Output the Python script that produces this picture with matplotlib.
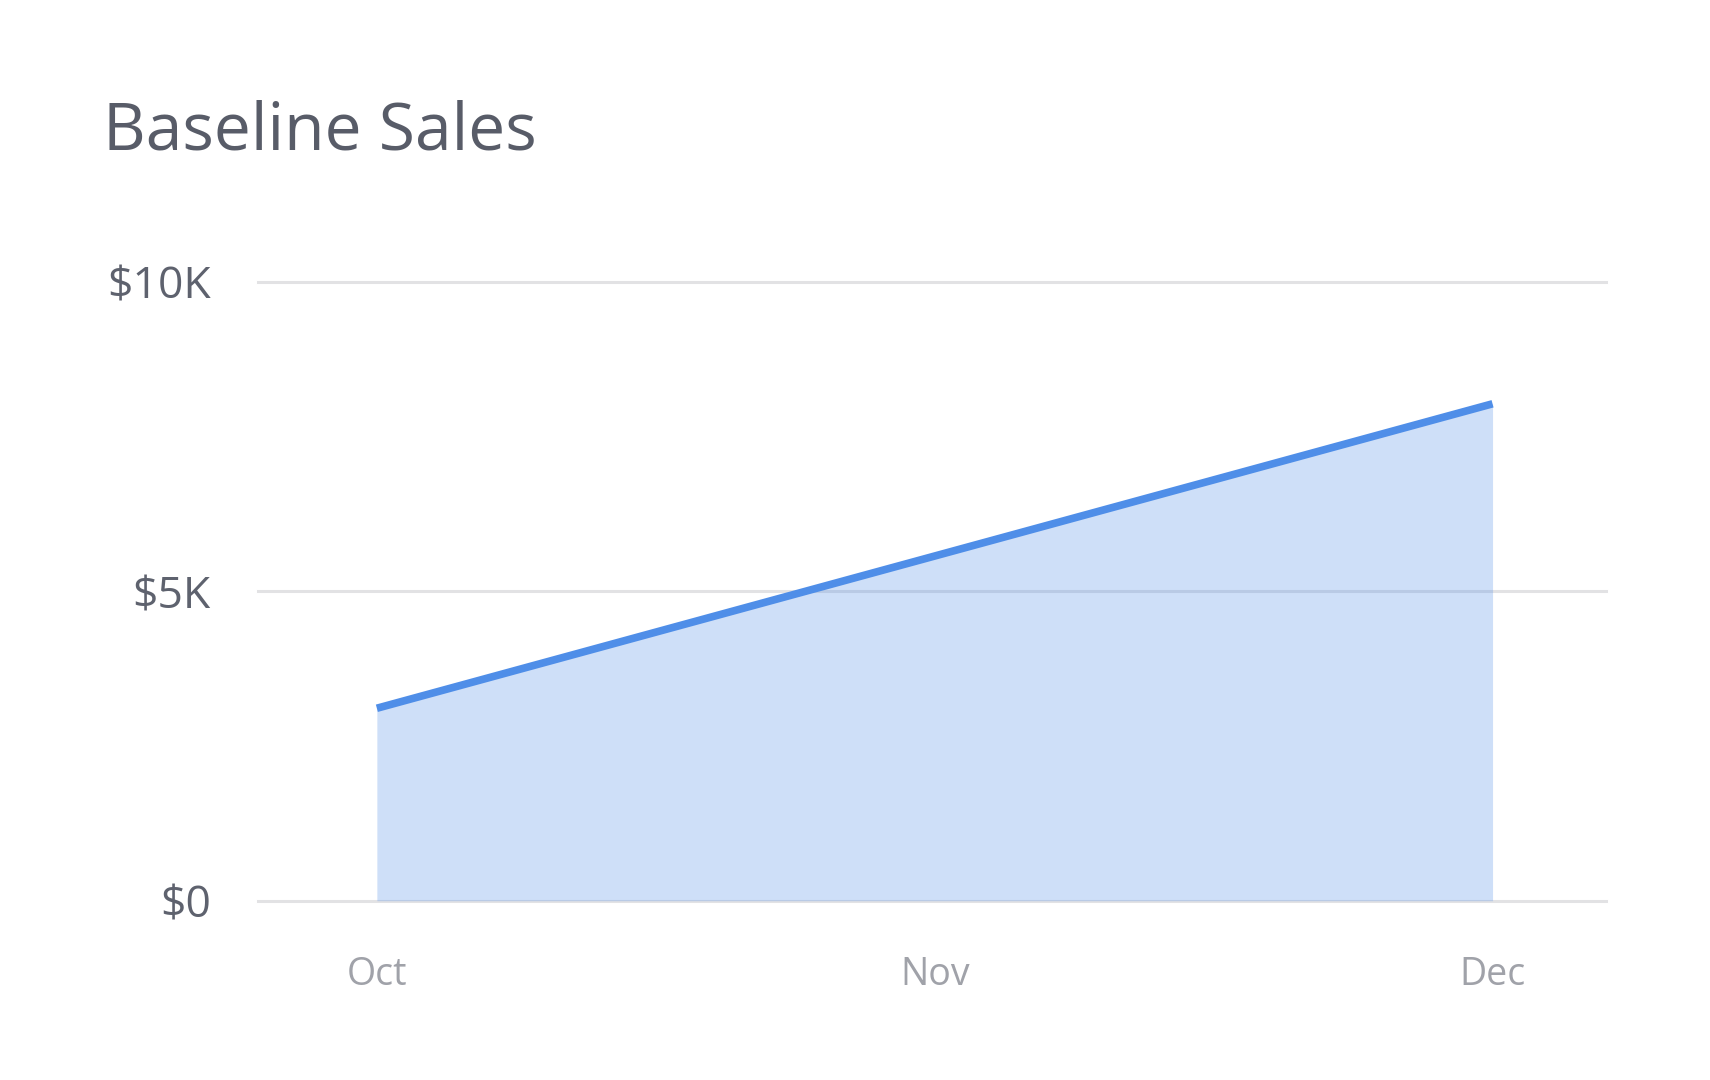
import matplotlib.pyplot as plt

months = ["Oct", "Nov", "Dec"]
sales = [3110, 5570, 8030]
y_ticks = [0, 5000, 10000]
y_labels = ["$0", "$5K", "$10K"]

plt.rcParams['font.family'] = ['Open Sans', 'DejaVu Sans']

fig = plt.figure(figsize=(17.1, 10.8), dpi=100)
ax = fig.add_axes([0.1509, 0.166, 0.788, 0.573])

x = list(range(len(months)))
# grid goes under a see-through fill so the $5K line shows faintly inside it
for y in y_ticks:
    ax.axhline(y, color="#e2e2e4", linewidth=2.2, zorder=1, clip_on=False)
ax.fill_between(x, 0, sales, color="#4f8ee8", alpha=0.28, linewidth=0, zorder=2)
ax.plot(x, sales, color="#4f8ee8", linewidth=5.5, solid_capstyle="butt", zorder=3)

ax.set_xlim(-0.213, 2.2025)
ax.set_ylim(0, 10000)
ax.set_yticks(y_ticks)
ax.set_yticklabels(y_labels)
ax.set_xticks(x)
ax.set_xticklabels(months)

for s in ax.spines.values():
    s.set_visible(False)
ax.tick_params(axis="y", length=0, pad=34, labelsize=32, labelcolor="#5e626e")
ax.tick_params(axis="x", length=0, pad=40, labelsize=27, labelcolor="#a0a2a9")

fig.text(0.0605, 1 - 149 / 1080, "Baseline Sales", fontsize=47.5, color="#585c68",
         ha="left", va="baseline")

fig.savefig("out.png", dpi=100, facecolor="white")
